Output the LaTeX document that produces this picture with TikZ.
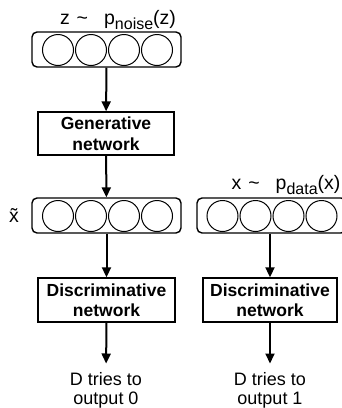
\documentclass[tikz,border=0pt]{standalone}
\usepackage{fontspec}
\setmainfont{Liberation Sans}
\usetikzlibrary{arrows.meta}
\newcommand{\lowsub}[1]{\raisebox{-5.5pt}{\fontsize{16}{16}\selectfont #1}}
\tikzset{
  layer/.style={draw, line width=1.4pt, rounded corners=5pt, minimum width=149pt, minimum height=35pt, inner sep=0pt},
  unit/.style={draw, line width=1pt, circle, minimum size=31pt, inner sep=0pt},
  netbox/.style={draw, line width=1.4pt, inner sep=0pt, align=center, font=\fontsize{17.5}{20.5}\selectfont\bfseries},
  lbl/.style={inner sep=0pt, font=\fontsize{18}{19}\selectfont},
  toplbl/.style={inner sep=0pt, font=\fontsize{19.5}{20}\selectfont},
  flow/.style={line width=2pt, -{Triangle[width=9pt,length=10pt]}},
}
\begin{document}
\begin{tikzpicture}[x=1pt,y=-1pt]
\useasboundingbox (0,0) rectangle (342,408);
% labels on top
\node[toplbl, anchor=base] (zl) at (118,24) {z\hspace{7pt}\textasciitilde\hspace{16pt}p\lowsub{noise}(z)};
\node[toplbl, anchor=base] (xl) at (286,189) {x\hspace{7pt}\textasciitilde\hspace{16pt}p\lowsub{data}(x)};
\node[toplbl, anchor=base] (xt) at (14,222) {\~{x}};
% layers
\node[layer] (l1) at (106.5,49.5) {};
\node[layer] (l2) at (106.5,215.5) {};
\node[layer] (r2) at (271.5,215.5) {};
\foreach \i/\x in {1/58,2/91,3/124,4/157}{
  \node[unit] (l1c\i) at (\x,50) {};
  \node[unit] (l2c\i) at (\x,216) {};
}
\foreach \i/\x in {1/222.5,2/255.5,3/288.5,4/321.5}{
  \node[unit] (r2c\i) at (\x,216) {};
}
% network boxes
\node[netbox, minimum width=136pt, minimum height=43pt] (gen) at (106,133.5) {Generative\\network};
\node[netbox, minimum width=137pt, minimum height=44pt] (disl) at (106.5,300) {Discriminative\\network};
\node[netbox, minimum width=134pt, minimum height=44pt] (disr) at (270,300) {Discriminative\\network};
% outputs
\node[lbl, anchor=north, align=center] (ol) at (106,372.5) {D tries to\\output 0};
\node[lbl, anchor=north, align=center] (or) at (270,372.5) {D tries to\\output 1};
% arrows
\draw[flow] (l1) -- (gen);
\draw[flow] (gen) -- (l2);
\draw[flow] (l2) -- (disl);
\draw[flow, shorten >=9pt] (disl.south) -- (ol.north);
\draw[flow] (r2.south -| disr.north) -- (disr.north);
\draw[flow, shorten >=9pt] (disr.south) -- (or.north);
\end{tikzpicture}
\end{document}
